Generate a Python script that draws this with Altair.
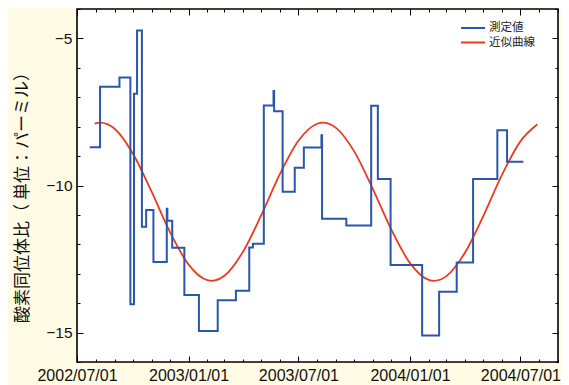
import altair as alt
import pandas as pd

# ---- measured values (step series) ----
meas_dates = ["2002-07-22", "2002-08-08", "2002-09-09", "2002-09-27", "2002-10-03", "2002-10-08",
              "2002-10-16", "2002-10-23", "2002-11-04", "2002-11-26", "2002-11-27", "2002-12-05",
              "2002-12-25", "2003-01-18", "2003-02-18", "2003-03-20", "2003-04-11", "2003-04-17",
              "2003-05-05", "2003-05-21", "2003-05-22", "2003-06-05", "2003-06-25", "2003-07-10",
              "2003-08-08", "2003-08-09", "2003-09-18", "2003-10-29", "2003-11-09", "2003-11-30",
              "2004-01-21", "2004-02-18", "2004-03-18", "2004-04-14", "2004-05-24", "2004-06-09",
              "2004-07-06"]
meas_values = [-8.70, -6.64, -6.33, -14.04, -6.88, -4.73, -11.40, -10.83, -12.60, -10.79, -11.20,
               -12.12, -13.72, -14.95, -13.90, -13.58, -12.11, -11.98, -7.28, -6.79, -7.48, -10.21,
               -9.40, -8.71, -8.29, -11.13, -11.36, -7.29, -9.78, -12.70, -15.10, -13.61, -12.62,
               -9.78, -8.12, -9.19, -9.19]

# ---- fitted curve ----
fit_dates = ["2002-07-30", "2002-08-08", "2002-09-01", "2002-10-01", "2002-11-01", "2002-12-01",
             "2003-01-01", "2003-02-01", "2003-02-08", "2003-03-01", "2003-04-01", "2003-05-01",
             "2003-06-01", "2003-07-01", "2003-08-01", "2003-08-10", "2003-09-01", "2003-10-01",
             "2003-11-01", "2003-12-01", "2004-01-01", "2004-02-01", "2004-02-09", "2004-03-01",
             "2004-04-01", "2004-05-01", "2004-06-01", "2004-07-01", "2004-07-29"]
fit_values = [-7.90, -7.86, -8.07, -8.91, -10.21, -11.57, -12.69, -13.22, -13.24, -13.07, -12.24,
              -11.00, -9.59, -8.48, -7.90, -7.86, -8.04, -8.84, -10.13, -11.49, -12.64, -13.21,
              -13.24, -13.08, -12.27, -11.03, -9.62, -8.50, -7.92]

series_names = ["測定値", "近似曲線"]
series_colors = ["#2a56ab", "#ec3a1e"]

# ---- axis ticks ----
x_domain = ["2002-07-01", "2004-09-01"]
major_dates = ["2002-07-01", "2003-01-01", "2003-07-01", "2004-01-01", "2004-07-01"]
minor_dates = ["2002-07-01", "2002-08-01", "2002-09-01", "2002-10-01", "2002-11-01", "2002-12-01",
               "2003-01-01", "2003-02-01", "2003-03-01", "2003-04-01", "2003-05-01", "2003-06-01",
               "2003-07-01", "2003-08-01", "2003-09-01", "2003-10-01", "2003-11-01", "2003-12-01",
               "2004-01-01", "2004-02-01", "2004-03-01", "2004-04-01", "2004-05-01", "2004-06-01",
               "2004-07-01", "2004-08-01", "2004-09-01"]
y_domain = [-16, -4]
y_major = [-15, -10, -5]
y_minor = [-16, -15, -14, -13, -12, -11, -10, -9, -8, -7, -6, -5, -4]

Y_TITLE = "酸素同位体比（ 単位：パーミル）"


def dt(s):
    t = pd.Timestamp(s)
    return alt.DateTime(year=t.year, month=t.month, date=t.day, utc=True)


meas_df = pd.DataFrame({"date": meas_dates, "value": meas_values, "series": series_names[0]})
fit_df = pd.DataFrame({"date": fit_dates, "value": fit_values, "series": series_names[1]})

xscale = alt.Scale(type="utc", domain=[dt(d) for d in x_domain], nice=False)
yscale = alt.Scale(domain=y_domain, nice=False, zero=False)

color = alt.Color(
    "series:N",
    scale=alt.Scale(domain=series_names, range=series_colors),
    legend=alt.Legend(
        orient="none", legendX=389, legendY=12, title=None, padding=0,
        symbolType="M-2,0L2,0", symbolSize=144, symbolStrokeWidth=2,
        labelFont="Noto Sans CJK JP", labelFontSize=11.5, labelColor="#222",
        labelOffset=9, rowPadding=1.5,
    ),
)


def tick_axis_x(orient, values, size):
    return alt.Axis(orient=orient, values=[dt(v) for v in values], tickSize=size, offset=-size,
                    labels=False, domain=False, grid=False, title=None,
                    tickColor="black", tickWidth=1)


def tick_axis_y(orient, values, size):
    return alt.Axis(orient=orient, values=values, tickSize=size, offset=-size,
                    labels=False, domain=False, grid=False, title=None,
                    tickColor="black", tickWidth=1)


x_label_axis = alt.Axis(
    orient="bottom", values=[dt(v) for v in major_dates],
    labelExpr="utcFormat(datum.value, '%Y/%m/%d')",
    labelFont="Liberation Sans", labelFontSize=16, labelColor="#111", labelPadding=5,
    labelFlush=False, labelOverlap=False, tickSize=0, domain=False, grid=False, title=None,
)
y_label_axis = alt.Axis(
    orient="left", values=y_major, format="d",
    labelFont="Liberation Sans", labelFontSize=15.5, labelColor="#111", labelPadding=5,
    tickSize=0, domain=False, grid=False,
    title=Y_TITLE, titleFont="Noto Sans CJK JP", titleFontSize=17, titleFontWeight="normal",
    titleColor="#111", titleAngle=270, titleX=-55, titleY=184, titleAlign="center",
    titleBaseline="middle",
)

measured = alt.Chart(meas_df).mark_line(interpolate="step-after", strokeWidth=2).encode(
    x=alt.X("date:T", scale=xscale, axis=x_label_axis),
    y=alt.Y("value:Q", scale=yscale, axis=y_label_axis),
    color=color,
)

fitted = alt.Chart(fit_df).mark_line(interpolate="monotone", strokeWidth=1.8).encode(
    x=alt.X("date:T", scale=xscale, axis=tick_axis_x("bottom", minor_dates, 3)),
    y=alt.Y("value:Q", scale=yscale, axis=tick_axis_y("left", y_minor, 3)),
    color=color,
)

ghost1 = alt.Chart(fit_df).mark_line(opacity=0).encode(
    x=alt.X("date:T", scale=xscale, axis=tick_axis_x("bottom", major_dates, 6)),
    y=alt.Y("value:Q", scale=yscale, axis=tick_axis_y("left", y_major, 6)),
)
ghost2 = alt.Chart(fit_df).mark_line(opacity=0).encode(
    x=alt.X("date:T", scale=xscale, axis=tick_axis_x("top", minor_dates, 3)),
    y=alt.Y("value:Q", scale=yscale, axis=tick_axis_y("right", y_minor, 3)),
)
ghost3 = alt.Chart(fit_df).mark_line(opacity=0).encode(
    x=alt.X("date:T", scale=xscale, axis=tick_axis_x("top", major_dates, 6)),
    y=alt.Y("value:Q", scale=yscale, axis=tick_axis_y("right", y_major, 6)),
)

chart = (
    alt.layer(ghost1, ghost2, ghost3, fitted, measured)
    .resolve_axis(x="independent", y="independent")
    .properties(
        width=481, height=353,
        autosize=alt.AutoSizeParams(type="none"),
        padding={"left": 69, "top": 1, "right": 3, "bottom": 23},
        background="#fffbe4",
    )
    .configure_view(fill="white", stroke="black", strokeWidth=1.6)
)

chart.save("out.html", embed_options={"renderer": "svg", "actions": False})
